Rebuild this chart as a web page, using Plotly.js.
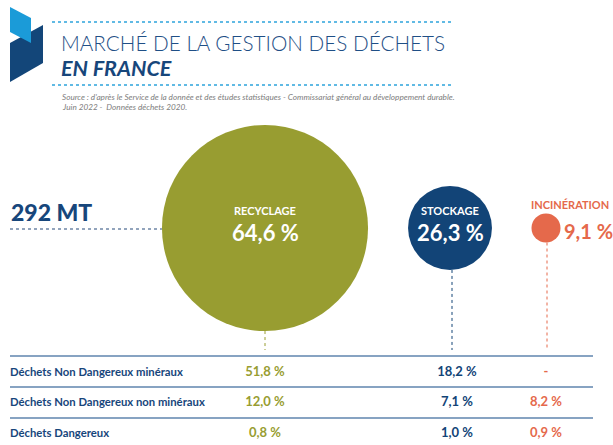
<!DOCTYPE html>
<html><head><meta charset="utf-8">
<script src="https://cdn.plot.ly/plotly-3.0.1.min.js"></script>
<style>html,body{margin:0;padding:0;background:#fff;}#chart{width:613px;height:445px;}</style>
</head><body><div id="chart"></div>
<script>
// ---- data ----
const categories = ['RECYCLAGE', 'STOCKAGE', 'INCINÉRATION'];
const shares = [64.6, 26.3, 9.1];
const totalLabel = '292 MT';
const rowLabels = ['Déchets Non Dangereux minéraux', 'Déchets Non Dangereux non minéraux', 'Déchets Dangereux'];
const recyclage = [51.8, 12.0, 0.8];
const stockage = [18.2, 7.1, 1.0];
const incineration = [null, 8.2, 0.9];
const titleLine1 = 'MARCHÉ DE LA GESTION DES DÉCHETS';
const titleLine2 = 'EN FRANCE';
const sourceLine1 = "Source : d'après le Service de la donnée et des études statistiques - Commissariat général au développement durable.";
const sourceLine2 = 'Juin 2022 -  Données déchets 2020.';

// ---- layout config ----
const colors = ['#989d31', '#124477', '#e5694b'];
const navy = '#17467b';
const colX = [265, 450, 546];
const connX = [265, 452, 547];
const tableColX = [265, 457, 546];
const circleY = 228;
const pxPerPct = 3.19;
const rowY = [373, 403, 434];
const lineY = [356, 387, 418];
const font = 'Lato, "Open Sans", sans-serif';

const fmt = v => v === null ? '-' : v.toFixed(1).replace('.', ',') + ' %';
const diam = shares.map(s => s * pxPerPct);

const traces = [];
// bubbles
traces.push({
  type: 'scatter', mode: 'markers',
  x: colX, y: categories.map(() => circleY),
  marker: {size: diam, sizemode: 'diameter', color: colors, opacity: 1, line: {width: 0}},
  hoverinfo: 'skip', showlegend: false
});
// table row labels
traces.push({
  type: 'scatter', mode: 'text', x: rowLabels.map(() => 10), y: rowY,
  text: rowLabels, textposition: 'middle right',
  textfont: {family: font, size: 11.3, color: navy, weight: 700},
  hoverinfo: 'skip', showlegend: false
});
[recyclage, stockage, incineration].forEach((col, i) => {
  traces.push({
    type: 'scatter', mode: 'text', x: col.map(() => tableColX[i]), y: rowY,
    text: col.map(fmt), textposition: 'middle center',
    textfont: {family: font, size: 13, color: colors[i], weight: 700},
    hoverinfo: 'skip', showlegend: false
  });
});

const shapes = [];
// logo
shapes.push({type: 'path', path: 'M10,43 L43,25 L43,63 L10,82 Z', fillcolor: '#134679', line: {width: 0}, layer: 'below'});
shapes.push({type: 'path', path: 'M10,7 L31,18 L31,43 L10,32 Z', fillcolor: '#1b9bd8', line: {width: 0}, layer: 'below'});
// header dotted lines
[22, 85].forEach(y => shapes.push({type: 'line', x0: 52, x1: 451, y0: y, y1: y, line: {color: '#2ea4dc', width: 1.3, dash: 'dot'}}));
// total dotted line
shapes.push({type: 'line', x0: 10, x1: colX[0] - diam[0] / 2, y0: 229, y1: 229, line: {color: '#6f86a6', width: 1.3, dash: 'dot'}});
// connectors
connX.forEach((x, i) => {
  shapes.push({type: 'line', x0: x, x1: x, y0: circleY + diam[i] / 2, y1: lineY[0] - 6, line: {color: colors[i], width: 1, dash: 'dot'}});
});
// table lines
lineY.forEach(y => shapes.push({type: 'line', x0: 10, x1: 593, y0: y, y1: y, line: {color: '#5f84ae', width: 1.5}}));

const annotations = [
  {x: 59, y: 43, text: titleLine1, xanchor: 'left', font: {family: font, size: 20.7, color: '#1f4f86', weight: 300}},
  {x: 59, y: 68, text: '<b><i>' + titleLine2 + '</i></b>', xanchor: 'left', font: {family: font, size: 21.5, color: navy, weight: 900}},
  {x: 60, y: 97, text: '<i>' + sourceLine1 + '</i>', xanchor: 'left', font: {family: font, size: 8.2, color: '#7d7d7d'}},
  {x: 60, y: 106.5, text: '<i>' + sourceLine2 + '</i>', xanchor: 'left', font: {family: font, size: 8.2, color: '#7d7d7d'}},
  {x: 9, y: 212, text: totalLabel, xanchor: 'left', font: {family: font, size: 23, color: navy, weight: 900}},
  {x: colX[0], y: 210, text: '<b>' + categories[0] + '</b>', font: {family: font, size: 11, color: '#ffffff'}},
  {x: colX[0], y: 232, text: '<b>' + fmt(shares[0]) + '</b>', font: {family: font, size: 22, color: '#ffffff'}},
  {x: colX[1], y: 210, text: '<b>' + categories[1] + '</b>', font: {family: font, size: 11, color: '#ffffff'}},
  {x: colX[1], y: 232, text: '<b>' + fmt(shares[1]) + '</b>', font: {family: font, size: 22, color: '#ffffff'}},
  {x: 570, y: 204, text: '<b>' + categories[2] + '</b>', font: {family: font, size: 11, color: colors[2]}},
  {x: 562, y: 231, text: '<b>' + fmt(shares[2]) + '</b>', xanchor: 'left', font: {family: font, size: 20, color: colors[2]}}
].map(a => Object.assign({xref: 'x', yref: 'y', showarrow: false, yanchor: 'middle', xanchor: 'center'}, a));

const layout = {
  width: 613, height: 445,
  margin: {l: 0, r: 0, t: 0, b: 0},
  paper_bgcolor: '#ffffff', plot_bgcolor: '#ffffff',
  xaxis: {range: [0, 613], visible: false, fixedrange: true},
  yaxis: {range: [445, 0], visible: false, fixedrange: true},
  showlegend: false,
  shapes: shapes, annotations: annotations
};
Plotly.newPlot('chart', traces, layout, {staticPlot: true, displayModeBar: false});
</script></body></html>
